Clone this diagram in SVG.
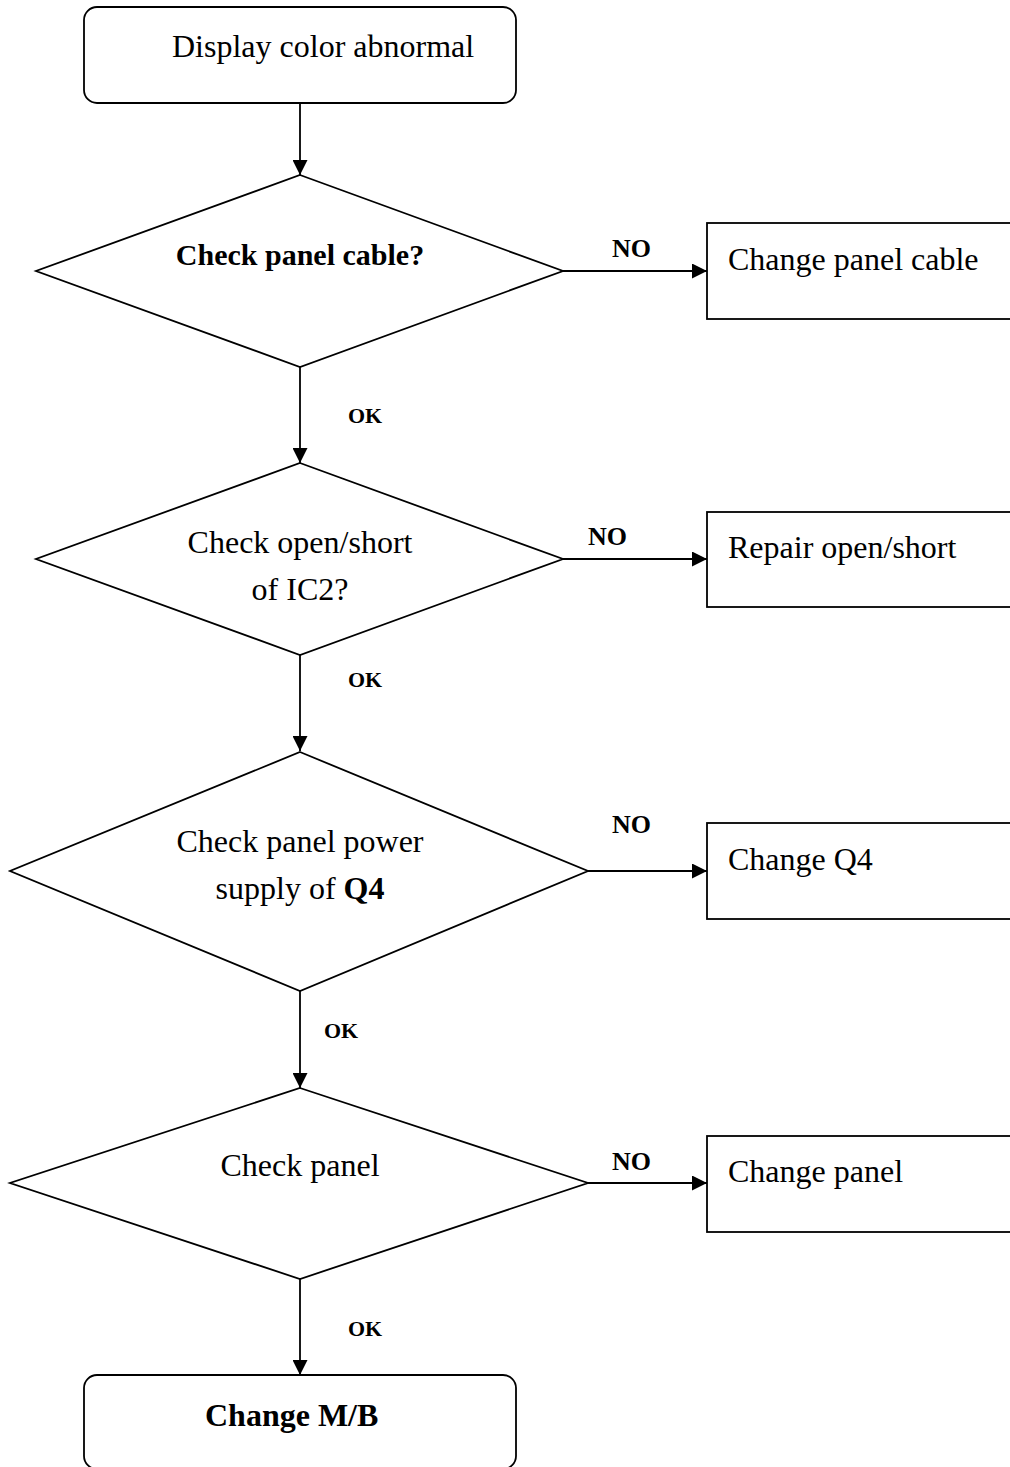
<svg xmlns="http://www.w3.org/2000/svg" width="1010" height="1467" viewBox="0 0 1010 1467">
<defs>
<style>
.shape{fill:#fff;stroke:#000;stroke-width:1.8}
.conn{fill:none;stroke:#000;stroke-width:1.8}
.t{font-family:"Liberation Serif","Times New Roman",serif;font-size:32px;fill:#000}
.tb{font-family:"Liberation Serif","Times New Roman",serif;font-weight:bold;fill:#000}
.lbl{font-family:"Liberation Serif","Times New Roman",serif;font-weight:bold;fill:#000}
</style>
<marker id="ah" markerWidth="15" markerHeight="15" refX="15" refY="7.5" orient="auto" markerUnits="userSpaceOnUse">
<path d="M0,0 L15,7.5 L0,15 Z" fill="#000"/>
</marker>
</defs>
<rect width="1010" height="1467" fill="#fff"/>
<g id="connectors">
<line class="conn" x1="300" y1="103" x2="300" y2="175" marker-end="url(#ah)"/>
<line class="conn" x1="300" y1="367" x2="300" y2="463" marker-end="url(#ah)"/>
<line class="conn" x1="300" y1="655" x2="300" y2="751" marker-end="url(#ah)"/>
<line class="conn" x1="300" y1="991" x2="300" y2="1088" marker-end="url(#ah)"/>
<line class="conn" x1="300" y1="1279" x2="300" y2="1375" marker-end="url(#ah)"/>
<line class="conn" x1="563" y1="271" x2="707" y2="271" marker-end="url(#ah)"/>
<line class="conn" x1="563" y1="559" x2="707" y2="559" marker-end="url(#ah)"/>
<line class="conn" x1="588" y1="871" x2="707" y2="871" marker-end="url(#ah)"/>
<line class="conn" x1="588" y1="1183" x2="707" y2="1183" marker-end="url(#ah)"/>
<text class="lbl" font-size="26" x="612" y="257">NO</text>
<text class="lbl" font-size="26" x="588" y="545">NO</text>
<text class="lbl" font-size="26" x="612" y="833">NO</text>
<text class="lbl" font-size="26" x="612" y="1170">NO</text>
<text class="lbl" font-size="22" x="348" y="423">OK</text>
<text class="lbl" font-size="22" x="348" y="687">OK</text>
<text class="lbl" font-size="22" x="324" y="1038">OK</text>
<text class="lbl" font-size="22" x="348" y="1336">OK</text>
</g>
<g id="start">
<rect class="shape" x="84" y="7" width="432" height="96" rx="13"/>
<text class="t" x="172" y="57">Display color abnormal</text>
</g>
<g id="d1">
<polygon class="shape" points="300,175 563,271 300,367 36,271"/>
<text class="tb" font-size="30" x="300" y="265" text-anchor="middle">Check panel cable?</text>
</g>
<g id="b1">
<rect class="shape" x="707" y="223" width="330" height="96"/>
<text class="t" x="728" y="270">Change panel cable</text>
</g>
<g id="d2">
<polygon class="shape" points="300,463 563,559 300,655 36,559"/>
<text class="t" x="300" y="553" text-anchor="middle">Check open/short</text>
<text class="t" x="300" y="600" text-anchor="middle">of IC2?</text>
</g>
<g id="b2">
<rect class="shape" x="707" y="512" width="330" height="95"/>
<text class="t" x="728" y="558">Repair open/short</text>
</g>
<g id="d3">
<polygon class="shape" points="300,752 588,871 300,991 10,871"/>
<text class="t" x="300" y="852" text-anchor="middle">Check panel power</text>
<text class="t" x="300" y="899" text-anchor="middle">supply of <tspan font-weight="bold">Q4</tspan></text>
</g>
<g id="b3">
<rect class="shape" x="707" y="823" width="330" height="96"/>
<text class="t" x="728" y="870">Change Q4</text>
</g>
<g id="d4">
<polygon class="shape" points="300,1088 588,1183 300,1279 10,1183"/>
<text class="t" x="300" y="1176" text-anchor="middle">Check panel</text>
</g>
<g id="b4">
<rect class="shape" x="707" y="1136" width="330" height="96"/>
<text class="t" x="728" y="1182">Change panel</text>
</g>
<g id="end">
<rect class="shape" x="84" y="1375" width="432" height="94" rx="13"/>
<text class="tb" font-size="32" x="205" y="1426">Change M/B</text>
</g>
</svg>
